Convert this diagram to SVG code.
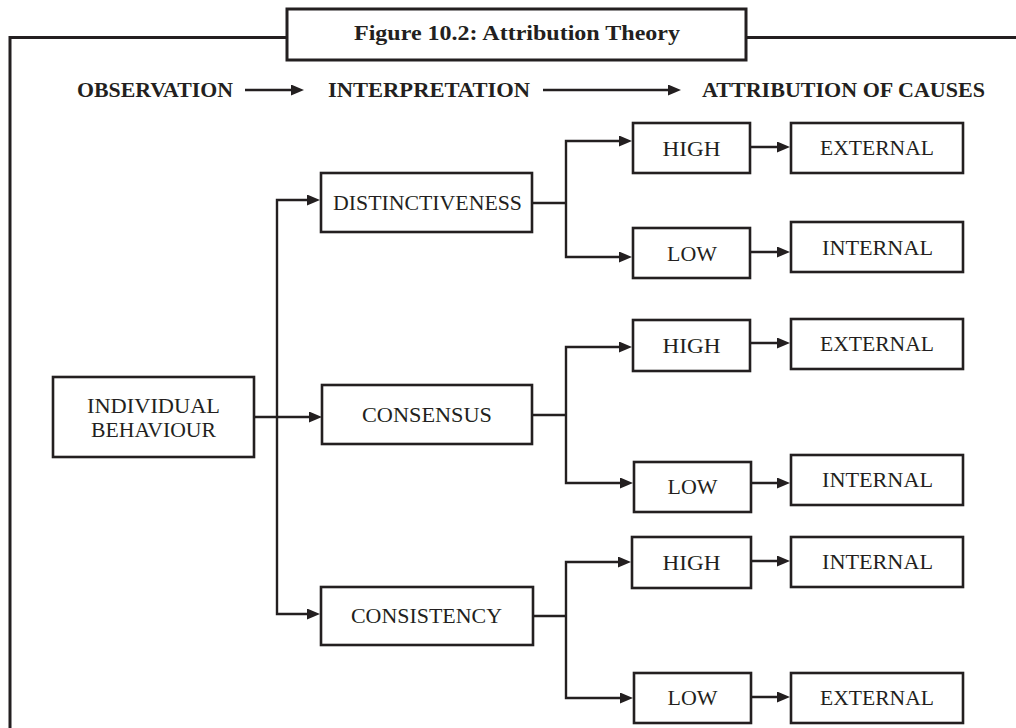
<svg xmlns="http://www.w3.org/2000/svg" width="1016" height="728" viewBox="0 0 1016 728">
  <defs>
    <marker id="arrow" markerUnits="userSpaceOnUse" markerWidth="13" markerHeight="11" refX="7" refY="5.5" orient="auto-start-reverse">
      <path d="M0,0 L13,5.5 L0,11 z" fill="#231f20"/>
    </marker>
    <style>
      .frame { fill: none; stroke: #231f20; stroke-width: 3; }
      .box { fill: #ffffff; stroke: #231f20; stroke-width: 2.6; }
      .wire { fill: none; stroke: #231f20; stroke-width: 2.4; }
      .arr { fill: none; stroke: #231f20; stroke-width: 2.4; marker-end: url(#arrow); }
      .arr2 { fill: none; stroke: #231f20; stroke-width: 2.4; marker-start: url(#arrow); marker-end: url(#arrow); }
      .lbl { font-family: "Liberation Serif", serif; font-size: 21px; fill: #231f20; text-anchor: middle; }
      .head { font-family: "Liberation Serif", serif; font-size: 21px; font-weight: bold; fill: #231f20; }
      .title { font-family: "Liberation Serif", serif; font-size: 20px; font-weight: bold; fill: #231f20; }
    </style>
  </defs>
  <rect width="1016" height="728" fill="#ffffff"/>

  <!-- outer frame with caption tab -->
  <g id="frame">
    <path class="frame" d="M10,728 V37.5 H287 M746,37.5 H1016"/>
    <rect class="frame" x="287" y="9" width="459" height="51" fill="#ffffff"/>
    <text class="title" x="354" y="40" textLength="326" lengthAdjust="spacingAndGlyphs">Figure 10.2: Attribution Theory</text>
  </g>

  <!-- stage headings -->
  <g id="headings">
    <text class="head" x="77" y="97" textLength="156" lengthAdjust="spacingAndGlyphs">OBSERVATION</text>
    <text class="head" x="328" y="97" textLength="202" lengthAdjust="spacingAndGlyphs">INTERPRETATION</text>
    <text class="head" x="702" y="97" textLength="283" lengthAdjust="spacingAndGlyphs">ATTRIBUTION OF CAUSES</text>
    <path class="arr" d="M245,90 H298"/>
    <path class="arr" d="M543,90 H675"/>
  </g>

  <!-- connectors -->
  <g id="connectors">
    <path class="arr" d="M254,417 H316"/>
    <path class="arr2" d="M314,200 H277 V614 H314"/>

    <path class="wire" d="M532,203 H566"/>
    <path class="arr2" d="M626,141 H566 V257 H626"/>
    <path class="wire" d="M532,415 H566"/>
    <path class="arr2" d="M626,347 H566 V483 H627"/>
    <path class="wire" d="M533,616 H566"/>
    <path class="arr2" d="M625,562 H566 V698 H627"/>

    <path class="arr" d="M750,147 H784"/>
    <path class="arr" d="M750,252 H784"/>
    <path class="arr" d="M750,343 H784"/>
    <path class="arr" d="M751,483 H784"/>
    <path class="arr" d="M751,561 H784"/>
    <path class="arr" d="M751,697 H784"/>
  </g>

  <g id="individual-behaviour">
    <rect class="box" x="53" y="377" width="201" height="80"/>
    <text class="lbl" x="153.5" y="413" textLength="133" lengthAdjust="spacingAndGlyphs">INDIVIDUAL</text>
    <text class="lbl" x="153.5" y="437" textLength="125" lengthAdjust="spacingAndGlyphs">BEHAVIOUR</text>
  </g>

  <g id="distinctiveness">
    <rect class="box" x="321" y="173" width="211" height="59"/>
    <text class="lbl" x="427.5" y="210" textLength="189" lengthAdjust="spacingAndGlyphs">DISTINCTIVENESS</text>
  </g>
  <g id="consensus">
    <rect class="box" x="322" y="385" width="210" height="59"/>
    <text class="lbl" x="427" y="422" textLength="130" lengthAdjust="spacingAndGlyphs">CONSENSUS</text>
  </g>
  <g id="consistency">
    <rect class="box" x="321" y="587" width="212" height="58"/>
    <text class="lbl" x="426.5" y="623" textLength="151" lengthAdjust="spacingAndGlyphs">CONSISTENCY</text>
  </g>

  <!-- distinctiveness outcomes -->
  <g id="dist-high">
    <rect class="box" x="633" y="123" width="117" height="50"/>
    <text class="lbl" x="691.5" y="156" textLength="58" lengthAdjust="spacingAndGlyphs">HIGH</text>
  </g>
  <g id="dist-high-external">
    <rect class="box" x="791" y="123" width="172" height="50"/>
    <text class="lbl" x="877" y="155" textLength="114" lengthAdjust="spacingAndGlyphs">EXTERNAL</text>
  </g>
  <g id="dist-low">
    <rect class="box" x="633" y="228" width="117" height="50"/>
    <text class="lbl" x="692" y="261" textLength="50" lengthAdjust="spacingAndGlyphs">LOW</text>
  </g>
  <g id="dist-low-internal">
    <rect class="box" x="791" y="222" width="172" height="50"/>
    <text class="lbl" x="877.5" y="255" textLength="111" lengthAdjust="spacingAndGlyphs">INTERNAL</text>
  </g>

  <!-- consensus outcomes -->
  <g id="cons-high">
    <rect class="box" x="633" y="320" width="117" height="51"/>
    <text class="lbl" x="691.5" y="353" textLength="58" lengthAdjust="spacingAndGlyphs">HIGH</text>
  </g>
  <g id="cons-high-external">
    <rect class="box" x="791" y="319" width="172" height="50"/>
    <text class="lbl" x="877" y="351" textLength="114" lengthAdjust="spacingAndGlyphs">EXTERNAL</text>
  </g>
  <g id="cons-low">
    <rect class="box" x="634" y="462" width="117" height="50"/>
    <text class="lbl" x="692.5" y="494" textLength="50" lengthAdjust="spacingAndGlyphs">LOW</text>
  </g>
  <g id="cons-low-internal">
    <rect class="box" x="791" y="455" width="172" height="50"/>
    <text class="lbl" x="877.5" y="487" textLength="111" lengthAdjust="spacingAndGlyphs">INTERNAL</text>
  </g>

  <!-- consistency outcomes -->
  <g id="consist-high">
    <rect class="box" x="632" y="537" width="119" height="51"/>
    <text class="lbl" x="691.5" y="570" textLength="58" lengthAdjust="spacingAndGlyphs">HIGH</text>
  </g>
  <g id="consist-high-internal">
    <rect class="box" x="791" y="537" width="172" height="50"/>
    <text class="lbl" x="877.5" y="569" textLength="111" lengthAdjust="spacingAndGlyphs">INTERNAL</text>
  </g>
  <g id="consist-low">
    <rect class="box" x="634" y="673" width="117" height="50"/>
    <text class="lbl" x="692.5" y="705" textLength="50" lengthAdjust="spacingAndGlyphs">LOW</text>
  </g>
  <g id="consist-low-external">
    <rect class="box" x="791" y="673" width="172" height="50"/>
    <text class="lbl" x="877" y="705" textLength="114" lengthAdjust="spacingAndGlyphs">EXTERNAL</text>
  </g>
</svg>
